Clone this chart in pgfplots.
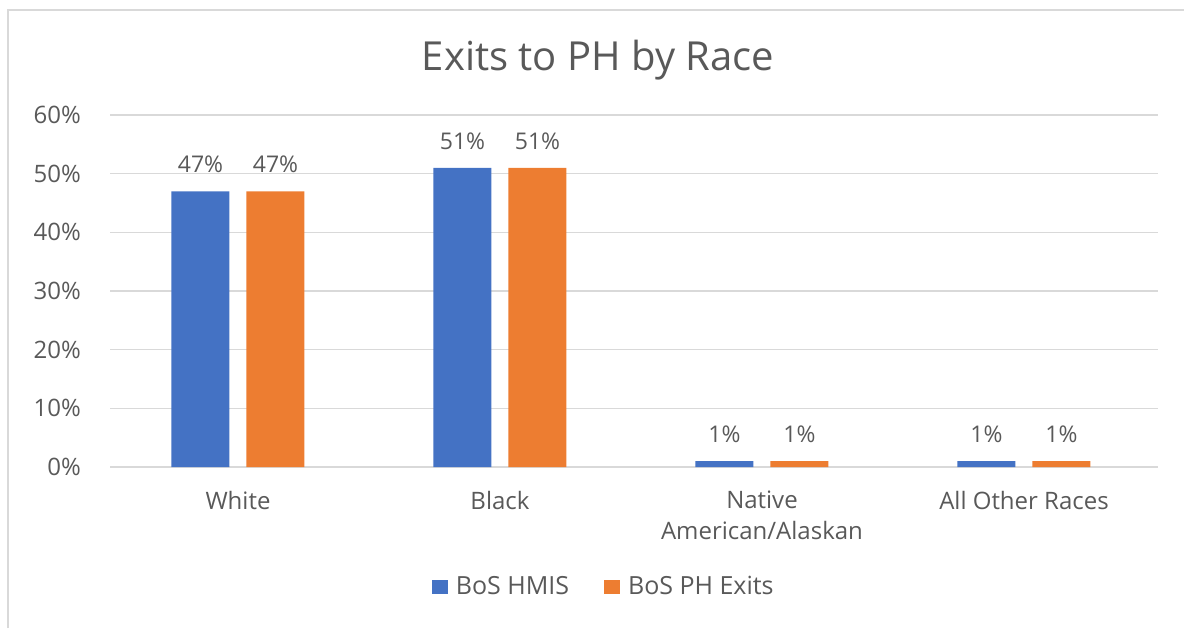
\documentclass[border=0pt]{standalone}
\usepackage{fontspec}
\setmainfont{Open Sans}
\usepackage{pgfplots}
\pgfplotsset{compat=1.18}
\definecolor{hmis}{HTML}{4472C4}
\definecolor{phexit}{HTML}{ED7D31}
\definecolor{txt}{HTML}{595959}
\definecolor{gridc}{HTML}{D9D9D9}
\begin{document}
\begin{tikzpicture}
\path[use as bounding box] (0,0) rectangle (592pt,314pt);
\draw[gridc, line width=1pt] (4pt,0) -- (4pt,309pt) -- (592pt,309pt);
\node[font=\fontsize{20}{24}\selectfont, text=txt] at (299pt,284pt) {Exits to PH by Race};
\begin{axis}[
    at={(55pt,80.5pt)}, anchor=south west,
    scale only axis, width=524pt, height=176pt,
    ybar=8.5pt, bar width=29pt,
    xmin=-0.4885, xmax=3.5115, ymin=0, ymax=60,
    ytick={0,10,20,30,40,50,60},
    xtick=data,
    xticklabels={White,Black,{Native\\American/Alaskan},All Other Races},
    /pgf/number format/assume math mode=true,
    yticklabel={\pgfmathprintnumber{\tick}\%},
    tick label style={font=\fontsize{12}{15.5}\selectfont, text=txt},
    xticklabel style={align=center, yshift=-8.5pt},
    yticklabel style={xshift=-11pt},
    major tick length=0pt,
    axis line style={draw=none},
    ymajorgrids,
    grid style={draw=gridc, line width=0.7pt},
    nodes near coords={\pgfmathprintnumber{\pgfplotspointmeta}\%},
    nodes near coords style={font=\fontsize{11.5}{14}\selectfont, text=txt, yshift=5.5pt},
    legend style={at={(0.474,-0.341)}, anchor=center, draw=none, fill=none,
        font=\fontsize{12.5}{15}\selectfont, text=txt,
        nodes={inner xsep=4pt},
        /tikz/every even column/.append style={column sep=13.5pt}},
    legend columns=2,
    legend image code/.code={\fill[#1] (0pt,-3.5pt) rectangle (8pt,3.5pt);},
]
\addplot[fill=hmis, draw=none] coordinates {(0,47) (1,51) (2,1) (3,1)};
\addlegendentry{BoS HMIS}
\addplot[fill=phexit, draw=none] coordinates {(0,47) (1,51) (2,1) (3,1)};
\addlegendentry{BoS PH Exits}
\end{axis}
\end{tikzpicture}
\end{document}
